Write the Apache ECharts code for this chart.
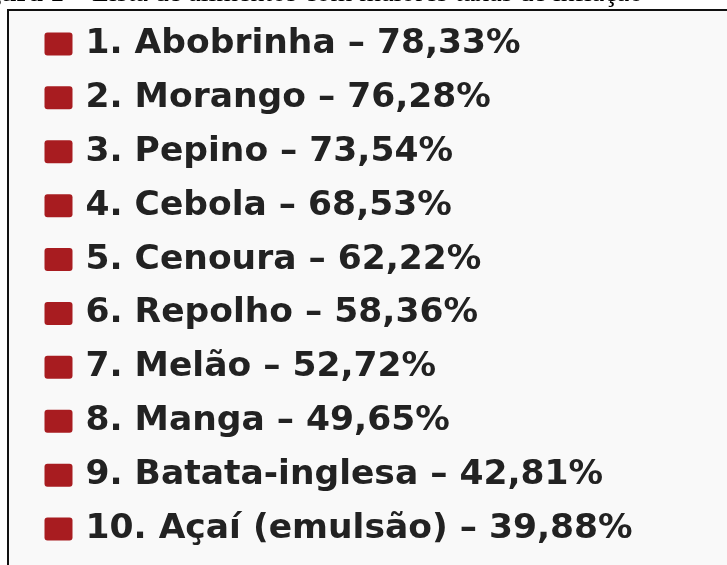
<!DOCTYPE html>
<html>
<head>
<meta charset="utf-8">
<script src="https://cdn.jsdelivr.net/npm/echarts@6/dist/echarts.min.js"></script>
<style>
  html, body { margin: 0; padding: 0; background: #fff; }
  #myChart { width: 727px; height: 565px; }
</style>
</head>
<body>
<div id="myChart"></div>
<script>
// alimentos com maiores taxas de inflação
var foodNames = ["Abobrinha", "Morango", "Pepino", "Cebola", "Cenoura",
  "Repolho", "Melão", "Manga", "Batata-inglesa", "Açaí (emulsão)"];
var inflationRates = [78.33, 76.28, 73.54, 68.53, 62.22, 58.36, 52.72, 49.65, 42.81, 39.88];

var myChart = echarts.init(document.getElementById("myChart"));

var seriesData = foodNames.map(function (name, i) {
  return [0, name, inflationRates[i]];
});

myChart.setOption({
  backgroundColor: "#ffffff",
  animation: false,
  graphic: [
    {
      type: "rect",
      z: -10,
      shape: { x: 8, y: 10, width: 740, height: 600 },
      style: { fill: "#f9f9f9", stroke: "#111111", lineWidth: 2 }
    },
    {
      type: "text",
      x: -38,
      y: -6,
      style: {
        text: "{b|Figura 1} – Lista de alimentos com maiores taxas de inflação",
        font: "28px 'Liberation Serif'",
        fill: "#000",
        verticalAlign: "middle",
        rich: {
          b: { fontFamily: "Liberation Serif", fontWeight: "bold", fontSize: 28, fill: "#000" }
        }
      }
    }
  ],
  grid: { left: 58.5, right: 20, top: 17, height: 539 },
  xAxis: { type: "value", min: 0, max: 1, show: false },
  yAxis: { type: "category", data: foodNames, inverse: true, show: false },
  series: [
    {
      type: "scatter",
      data: seriesData,
      encode: { x: 0, y: 1 },
      // quadrado com cantos pouco arredondados
      symbol: "path://M3,0H25Q28,0 28,3V20Q28,23 25,23H3Q0,23 0,20V3Q0,0 3,0Z",
      symbolSize: [28, 23],
      itemStyle: { color: "#a81c20", opacity: 1 },
      label: {
        show: true,
        position: "right",
        distance: 13,
        fontFamily: "DejaVu Sans",
        fontWeight: "bold",
        fontSize: 34.5,
        color: "#222222",
        opacity: 1,
        formatter: function (p) {
          var rate = p.value[2].toFixed(2).replace(".", ",");
          return (p.dataIndex + 1) + ". " + p.value[1] + " – " + rate + "%";
        }
      }
    }
  ]
});
</script>
</body>
</html>
